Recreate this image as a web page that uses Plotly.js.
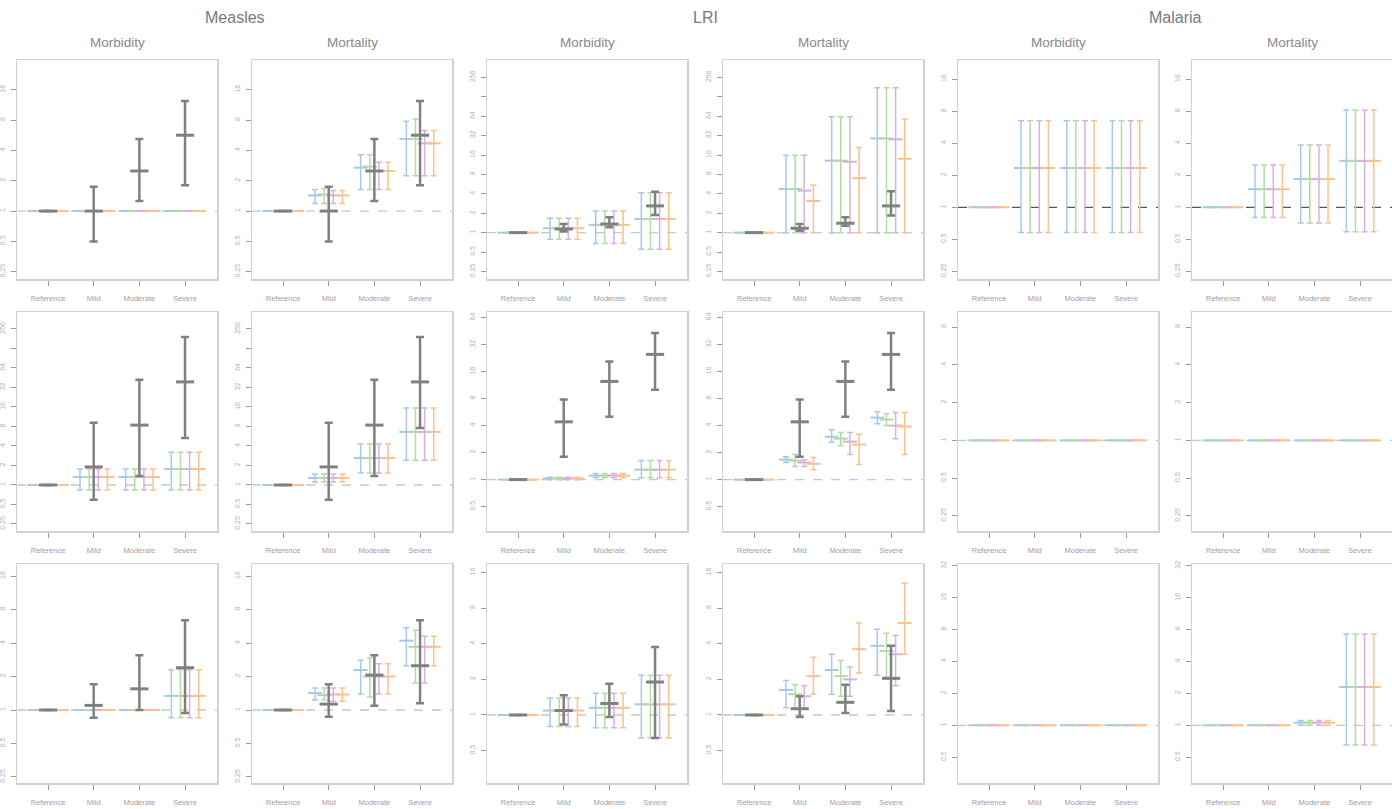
<!DOCTYPE html>
<html>
<head>
<meta charset="utf-8">
<script src="https://cdn.plot.ly/plotly-3.0.1.min.js"></script>
<style>
  html, body { margin: 0; padding: 0; background: #fff; }
  #chart { width: 1392px; height: 809px; }
</style>
</head>
<body>
<div id="chart"></div>
<script>
// Severity categories on every panel
const categories = ['Reference', 'Mild', 'Moderate', 'Severe'];
// Series order inside a panel: blue, green, gray (main estimate), purple, orange
const seriesNames = ['Model A', 'Model B', 'Main', 'Model C', 'Model D'];
const diseases = ['Measles', 'LRI', 'Malaria'];
const outcomes = ['Morbidity', 'Mortality'];

// ---- Row 1 ----
const measlesMorb1Mid = [[1,1,1,1],[1,1,1,1],[1,1,2.5,5.66],[1,1,1,1],[1,1,1,1]];
const measlesMorb1Lo  = [[1,1,1,1],[1,1,1,1],[1,0.5,1.26,1.8],[1,1,1,1],[1,1,1,1]];
const measlesMorb1Hi  = [[1,1,1,1],[1,1,1,1],[1,1.74,5.2,12.4],[1,1,1,1],[1,1,1,1]];

const measlesMort1Mid = [[1,1.43,2.69,5.2],[1,1.46,2.76,5.2],[1,1,2.5,5.66],[1,1.43,2.5,4.7],[1,1.43,2.5,4.7]];
const measlesMort1Lo  = [[1,1.19,1.64,2.24],[1,1.19,1.64,2.24],[1,0.5,1.26,1.8],[1,1.19,1.64,2.24],[1,1.19,1.64,2.24]];
const measlesMort1Hi  = [[1,1.64,3.63,7.8],[1,1.67,3.63,8.2],[1,1.74,5.2,12.4],[1,1.6,3.05,6.3],[1,1.6,3.05,6.3]];

const lriMorb1Mid = [[1,1.17,1.32,1.63],[1,1.17,1.32,1.63],[1,1.14,1.36,2.6],[1,1.17,1.32,1.63],[1,1.17,1.32,1.63]];
const lriMorb1Lo  = [[1,0.79,0.68,0.55],[1,0.79,0.68,0.55],[1,1.05,1.21,1.88],[1,0.79,0.68,0.55],[1,0.79,0.68,0.55]];
const lriMorb1Hi  = [[1,1.67,2.17,4.17],[1,1.67,2.17,4.17],[1,1.36,1.73,4.3],[1,1.67,2.17,4.17],[1,1.67,2.17,4.17]];

const lriMort1Mid = [[1,4.76,13.1,29],[1,4.76,13.1,29],[1,1.17,1.4,2.6],[1,4.48,12.6,28],[1,3.1,7.0,14]];
const lriMort1Lo  = [[1,1,1,1],[1,1,1,1],[1,1.07,1.28,1.84],[1,1,1,1],[1,1,1,1]];
const lriMort1Hi  = [[1,15.9,63,178],[1,15.9,63,178],[1,1.36,1.73,4.4],[1,15.9,63,178],[1,5.5,21,58]];

const malariaMorb1Mid = [[1,2.34,2.34,2.34],[1,2.34,2.34,2.34],null,[1,2.34,2.34,2.34],[1,2.34,2.34,2.34]];
const malariaMorb1Lo  = [[1,0.58,0.58,0.58],[1,0.58,0.58,0.58],null,[1,0.58,0.58,0.58],[1,0.58,0.58,0.58]];
const malariaMorb1Hi  = [[1,6.5,6.5,6.5],[1,6.5,6.5,6.5],null,[1,6.5,6.5,6.5],[1,6.5,6.5,6.5]];

const malariaMort1Mid = [[1,1.48,1.84,2.73],[1,1.48,1.84,2.73],null,[1,1.48,1.84,2.73],[1,1.48,1.84,2.73]];
const malariaMort1Lo  = [[1,0.8,0.71,0.59],[1,0.8,0.71,0.59],null,[1,0.8,0.71,0.59],[1,0.8,0.71,0.59]];
const malariaMort1Hi  = [[1,2.5,3.86,8.2],[1,2.5,3.86,8.2],null,[1,2.5,3.86,8.2],[1,2.5,3.86,8.2]];

// ---- Row 2 ----
const measlesMorb2Mid = [[1,1.33,1.33,1.77],[1,1.33,1.33,1.77],[1,1.9,8.4,39],[1,1.33,1.33,1.77],[1,1.33,1.33,1.77]];
const measlesMorb2Lo  = [[1,0.84,0.84,0.84],[1,0.84,0.84,0.84],[1,0.59,1.38,5.3],[1,0.84,0.84,0.84],[1,0.84,0.84,0.84]];
const measlesMorb2Hi  = [[1,1.77,1.77,3.2],[1,1.77,1.77,3.2],[1,9.1,42,193],[1,1.77,1.77,3.2],[1,1.77,1.77,3.2]];

const measlesMort2Mid = [[1,1.28,2.6,6.6],[1,1.28,2.6,6.6],[1,1.9,8.4,39],[1,1.28,2.6,6.6],[1,1.28,2.6,6.6]];
const measlesMort2Lo  = [[1,1.11,1.53,2.4],[1,1.11,1.53,2.4],[1,0.59,1.38,7.6],[1,1.11,1.53,2.4],[1,1.11,1.53,2.4]];
const measlesMort2Hi  = [[1,1.48,4.3,15.4],[1,1.48,4.3,15.4],[1,9.1,42,193],[1,1.48,4.3,15.4],[1,1.48,4.3,15.4]];

const lriMorb2Mid = [[1,1.03,1.11,1.29],[1,1.03,1.11,1.29],[1,4.4,12.4,24.8],[1,1.03,1.11,1.29],[1,1.03,1.11,1.29]];
const lriMorb2Lo  = [[1,1.0,1.05,1.05],[1,1.0,1.05,1.05],[1,1.8,5.0,10],[1,1.0,1.05,1.05],[1,1.0,1.05,1.05]];
const lriMorb2Hi  = [[1,1.06,1.17,1.63],[1,1.06,1.17,1.63],[1,7.8,20.7,43],[1,1.06,1.17,1.63],[1,1.06,1.17,1.63]];

const lriMort2Mid = [[1,1.67,3.0,4.9],[1,1.63,2.86,4.67],[1,4.4,12.4,24.8],[1,1.55,2.65,4.0],[1,1.5,2.46,3.9]];
const lriMort2Lo  = [[1,1.55,2.6,4.2],[1,1.4,2.4,4.0],[1,1.8,5.0,10],[1,1.4,1.9,2.86],[1,1.29,1.47,1.9]];
const lriMort2Hi  = [[1,1.8,3.6,5.7],[1,1.9,3.34,5.4],[1,7.8,20.7,43],[1,1.67,3.34,5.6],[1,1.76,3.2,5.6]];

const malariaMorb2Mid = [[1,1,1,1],[1,1,1,1],null,[1,1,1,1],[1,1,1,1]];
const malariaMort2Mid = [[1,1,1,1],[1,1,1,1],null,[1,1,1,1],[1,1,1,1]];

// ---- Row 3 ----
const measlesMorb3Mid = [[1,1,1,1.34],[1,1,1,1.34],[1,1.1,1.55,2.4],[1,1,1,1.34],[1,1,1,1.34]];
const measlesMorb3Lo  = [[1,1,1,0.85],[1,1,1,0.85],[1,0.85,1.0,0.94],[1,1,1,0.85],[1,1,1,0.85]];
const measlesMorb3Hi  = [[1,1,1,2.3],[1,1,1,2.3],[1,1.7,3.1,6.4],[1,1,1,2.3],[1,1,1,2.3]];

const measlesMort3Mid = [[1,1.42,2.29,4.2],[1,1.36,2.0,3.7],[1,1.13,2.06,2.5],[1,1.38,2.0,3.7],[1,1.38,2.0,3.7]];
const measlesMort3Lo  = [[1,1.23,1.39,2.5],[1,1.23,1.31,1.75],[1,0.87,1.09,1.15],[1,1.2,1.39,1.75],[1,1.2,1.39,2.5]];
const measlesMort3Hi  = [[1,1.58,2.8,5.5],[1,1.58,2.93,5.2],[1,1.7,3.1,6.4],[1,1.58,2.6,4.6],[1,1.58,2.6,4.6]];

const lriMorb3Mid = [[1,1.09,1.15,1.23],[1,1.09,1.15,1.23],[1,1.09,1.25,1.9],[1,1.09,1.15,1.23],[1,1.09,1.15,1.23]];
const lriMorb3Lo  = [[1,0.8,0.78,0.64],[1,0.8,0.78,0.64],[1,0.83,0.96,0.64],[1,0.8,0.78,0.64],[1,0.8,0.78,0.64]];
const lriMorb3Hi  = [[1,1.39,1.53,2.17],[1,1.39,1.53,2.17],[1,1.47,1.84,3.76],[1,1.39,1.53,2.17],[1,1.39,1.53,2.17]];

const lriMort3Mid = [[1,1.63,2.4,3.84],[1,1.5,2.13,3.47],[1,1.13,1.28,2.04],[1,1.44,2.0,3.26],[1,2.13,3.6,6.0]];
const lriMort3Lo  = [[1,1.15,1.5,2.17],[1,1.13,1.44,2.08],[1,0.96,1.04,1.08],[1,1.13,1.44,1.77],[1,1.5,2.26,3.26]];
const lriMort3Hi  = [[1,1.96,3.26,5.3],[1,1.8,2.89,4.9],[1,1.44,1.8,3.84],[1,1.77,2.55,4.7],[1,3.07,6.0,13]];

const malariaMorb3Mid = [[1,1,1,1],[1,1,1,1],null,[1,1,1,1],[1,1,1,1]];
const malariaMort3Mid = [[1,1,1.06,2.3],[1,1,1.06,2.3],null,[1,1,1.06,2.3],[1,1,1.06,2.3]];
const malariaMort3Lo  = [[1,1,1.0,0.65],[1,1,1.0,0.65],null,[1,1,1.0,0.65],[1,1,1.0,0.65]];
const malariaMort3Hi  = [[1,1,1.11,7.3],[1,1,1.11,7.3],null,[1,1,1.11,7.3],[1,1,1.11,7.3]];

// Panels in reading order (row by row, six columns)
const panelData = [
  [measlesMorb1Mid, measlesMorb1Lo, measlesMorb1Hi],
  [measlesMort1Mid, measlesMort1Lo, measlesMort1Hi],
  [lriMorb1Mid, lriMorb1Lo, lriMorb1Hi],
  [lriMort1Mid, lriMort1Lo, lriMort1Hi],
  [malariaMorb1Mid, malariaMorb1Lo, malariaMorb1Hi],
  [malariaMort1Mid, malariaMort1Lo, malariaMort1Hi],
  [measlesMorb2Mid, measlesMorb2Lo, measlesMorb2Hi],
  [measlesMort2Mid, measlesMort2Lo, measlesMort2Hi],
  [lriMorb2Mid, lriMorb2Lo, lriMorb2Hi],
  [lriMort2Mid, lriMort2Lo, lriMort2Hi],
  [malariaMorb2Mid, malariaMorb2Mid, malariaMorb2Mid],
  [malariaMort2Mid, malariaMort2Mid, malariaMort2Mid],
  [measlesMorb3Mid, measlesMorb3Lo, measlesMorb3Hi],
  [measlesMort3Mid, measlesMort3Lo, measlesMort3Hi],
  [lriMorb3Mid, lriMorb3Lo, lriMorb3Hi],
  [lriMort3Mid, lriMort3Lo, lriMort3Hi],
  [malariaMorb3Mid, malariaMorb3Mid, malariaMorb3Mid],
  [malariaMort3Mid, malariaMort3Lo, malariaMort3Hi]
];

// Vertical extent of each panel, in doublings (log2) below/above 1
const panelLog2Range = [
  [-2.24, 4.98], [-2.24, 4.98], [-2.39, 8.9], [-2.39, 8.9], [-2.24, 4.6], [-2.24, 4.6],
  [-2.36, 8.87], [-2.36, 8.87], [-1.9, 6.2], [-1.9, 6.2], [-2.4, 3.4], [-2.4, 3.4],
  [-2.18, 4.36], [-2.18, 4.36], [-1.91, 4.24], [-1.91, 4.24], [-1.81, 5.06], [-1.81, 5.06]
];

// ---- Styling / geometry ----
const W = 1392, H = 809;
const seriesColors = ['#a8c8e8', '#b2dca4', '#808080', '#d5b3dc', '#fcc18d'];
const seriesOffsets = [-0.3, -0.1, 0, 0.1, 0.3];
const colLeft = [17, 252, 487, 723, 958, 1192];
const colWidth = 200;
const rowTop = [60, 312, 564];
const rowHeight = 219;
const LOG2 = Math.log10(2);

const traces = [];
const layout = {
  width: W, height: H,
  margin: {l: 0, r: 0, t: 0, b: 0},
  paper_bgcolor: '#fff', plot_bgcolor: '#fff',
  showlegend: false,
  font: {family: 'Liberation Sans, Arial, sans-serif', color: '#888'},
  annotations: [], shapes: []
};

panelData.forEach((pd, p) => {
  const r = Math.floor(p / 6), c = p % 6;
  const n = p + 1;
  const xa = 'xaxis' + (n === 1 ? '' : n), ya = 'yaxis' + (n === 1 ? '' : n);
  const xr = 'x' + (n === 1 ? '' : n), yr = 'y' + (n === 1 ? '' : n);
  const [mid, lo, hi] = pd;
  const [l2a, l2b] = panelLog2Range[p];

  // ticks at powers of two inside the panel
  const tv = [], tt = [];
  for (let k = Math.ceil(l2a); k <= Math.floor(l2b); k++) {
    const v = Math.pow(2, k);
    tv.push(v);
    tt.push(k === 7 ? '' : String(v));
  }

  layout[xa] = {
    domain: [colLeft[c] / W, Math.min(1, (colLeft[c] + colWidth) / W)],
    anchor: yr, range: [-0.68, 3.7],
    tickvals: [0, 1, 2, 3], ticktext: categories,
    ticks: 'outside', ticklen: 5, tickcolor: '#999', tickwidth: 1,
    ticklabelstandoff: 6,
    tickfont: {size: 7.5, color: '#a0a0a8'},
    showline: true, mirror: true, linecolor: '#d2d2d2', linewidth: 1.5,
    showgrid: false, zeroline: false, fixedrange: true
  };
  layout[ya] = {
    domain: [1 - (rowTop[r] + rowHeight) / H, 1 - rowTop[r] / H],
    anchor: xr, type: 'log', range: [l2a * LOG2, l2b * LOG2],
    tickvals: tv, ticktext: tt, tickangle: -90,
    ticks: 'outside', ticklen: 5, tickcolor: '#999', tickwidth: 1,
    ticklabelstandoff: 3,
    tickfont: {size: 7, color: '#a8b4c8'},
    showline: true, mirror: true, linecolor: '#d2d2d2', linewidth: 1.5,
    showgrid: false, zeroline: false, fixedrange: true
  };

  // reference line at 1
  layout.shapes.push({
    type: 'line', xref: xr, yref: yr, x0: -0.68, x1: 3.7, y0: 1, y1: 1,
    line: {color: (r === 0 && c >= 4) ? '#555' : '#c8c8c8', width: 1.3, dash: 'dash'},
    layer: 'below'
  });

  // colored series first, main (gray) estimate on top
  [0, 1, 3, 4, 2].forEach(s => {
    if (!mid[s]) return;
    const isMain = s === 2;
    const xs = categories.map((_, i) => i + seriesOffsets[s]);
    traces.push({
      type: 'scatter', mode: 'markers', name: seriesNames[s],
      xaxis: xr, yaxis: yr,
      x: xs, y: mid[s],
      marker: {symbol: 'line-ew', size: isMain ? 13 : 10,
               line: {color: seriesColors[s], width: isMain ? 3 : 2}},
      error_y: {
        type: 'data', symmetric: false,
        array: mid[s].map((v, i) => hi[s][i] - v),
        arrayminus: mid[s].map((v, i) => v - lo[s][i]),
        color: seriesColors[s], thickness: isMain ? 2.5 : 1.5, width: isMain ? 4 : 3
      },
      hoverinfo: 'skip'
    });
  });
});

// Disease headings and outcome sub-headings
diseases.forEach((d, i) => {
  const cx = (colLeft[2 * i] + colLeft[2 * i + 1] + colWidth) / 2;
  layout.annotations.push({
    text: d, xref: 'paper', yref: 'paper', x: cx / W, y: 1 - 18 / H,
    xanchor: 'center', yanchor: 'middle', showarrow: false,
    font: {size: 16, color: '#7a7a7a'}
  });
});
colLeft.forEach((lx, c) => {
  layout.annotations.push({
    text: outcomes[c % 2], xref: 'paper', yref: 'paper',
    x: (lx + colWidth / 2) / W, y: 1 - 42 / H,
    xanchor: 'center', yanchor: 'middle', showarrow: false,
    font: {size: 13.5, color: '#8a8a8a'}
  });
});

Plotly.newPlot('chart', traces, layout, {staticPlot: true, displayModeBar: false});
</script>
</body>
</html>
